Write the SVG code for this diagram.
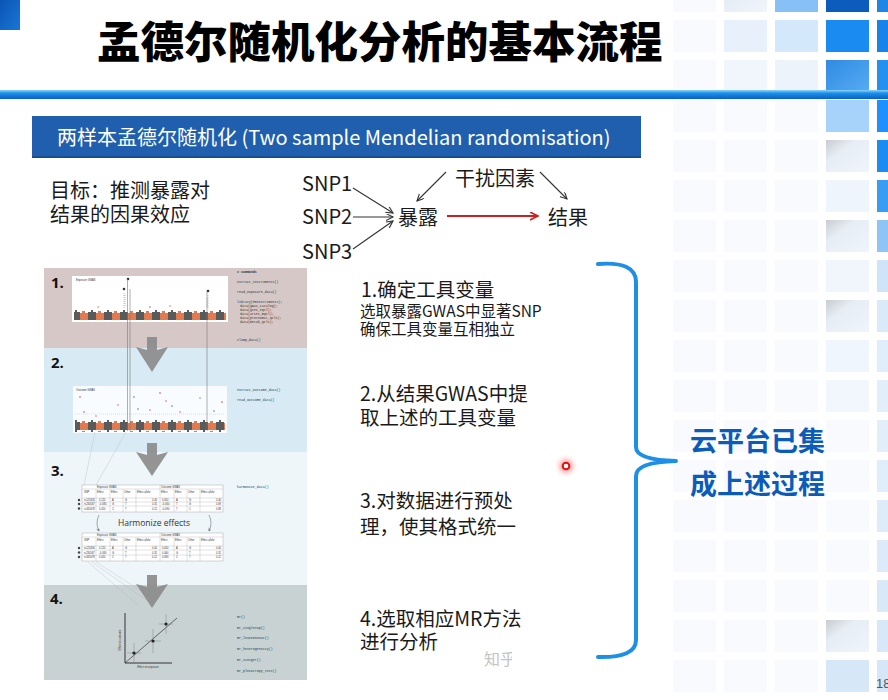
<svg xmlns="http://www.w3.org/2000/svg" width="888" height="700" viewBox="0 0 888 700">
  <defs>
    <style>
      .cjk { font-family: "Noto Sans CJK SC", "Noto Sans", sans-serif; }
      .title { font-size: 43.5px; font-weight: 900; fill: #000; }
      .bar-text { font-size: 20px; fill: #fff; }
      .dia { font-size: 20px; fill: #1a1a1a; }
      .step { font-size: 19.5px; fill: #1a1a1a; }
      .sub { font-size: 15.5px; fill: #1a1a1a; }
      .callout { font-size: 27px; font-weight: 700; fill: #0b5cb8; }
      .code { font-family: "Liberation Mono", monospace; font-size: 3.3px; fill: #333; }
      .tiny { font-family: "Liberation Sans", sans-serif; font-size: 2.6px; fill: #333; }
      .num { font-family: "Open Sans", "Liberation Sans", sans-serif; font-size: 15px; font-weight: 700; fill: #111; }
      .grid { fill: #fff; stroke: #999; stroke-width: 0.4; }
      .gl { stroke: #aaa; stroke-width: 0.35; }
      .conn { fill: none; stroke: #333; stroke-width: 1.1; }
      .guide { stroke: #7a7a7a; stroke-width: 0.6; }
      .steparrow { fill: #8a8a8a; opacity: 0.9; }
      .shadow { fill: url(#bevel); }
    </style>
    <linearGradient id="rule" x1="0" y1="0" x2="0" y2="1">
      <stop offset="0" stop-color="#8fd6fb"/>
      <stop offset="0.35" stop-color="#1a90ea"/>
      <stop offset="1" stop-color="#0a5fc2"/>
    </linearGradient>
    <linearGradient id="corner" x1="0" y1="0" x2="1" y2="1">
      <stop offset="0" stop-color="#0b55b5"/>
      <stop offset="1" stop-color="#1976d6"/>
    </linearGradient>
    <linearGradient id="bevel" x1="0" y1="0" x2="1" y2="1">
      <stop offset="0" stop-color="#c9ccd0"/>
      <stop offset="0.35" stop-color="#e6edf5"/>
      <stop offset="1" stop-color="#eef5fc"/>
    </linearGradient>
    <linearGradient id="blueShade" x1="0" y1="0" x2="1" y2="1">
      <stop offset="0" stop-color="#2f8ae2"/>
      <stop offset="1" stop-color="#58acf4"/>
    </linearGradient>
    <pattern id="tile" patternUnits="userSpaceOnUse" x="673" y="-20" width="51" height="40">
      <rect x="0" y="0" width="43" height="32" fill="#f8fafe"/>
    </pattern>
    <pattern id="chrom" patternUnits="userSpaceOnUse" x="0" y="0" width="16" height="10">
      <rect x="0" y="3" width="8" height="7" fill="#e27a4e"/>
      <rect x="2" y="1" width="3" height="2" fill="#e27a4e"/>
      <rect x="8" y="2" width="8" height="8" fill="#5a5a5a"/>
      <rect x="11" y="0" width="2" height="2" fill="#5a5a5a"/>
    </pattern>
    <marker id="head" markerUnits="userSpaceOnUse" markerWidth="10" markerHeight="10" refX="7" refY="3.5" orient="auto">
      <path d="M0,0 L7,3.5 L0,7" fill="none" stroke="#333" stroke-width="1.1"/>
    </marker>
    <marker id="headRed" markerUnits="userSpaceOnUse" markerWidth="12" markerHeight="12" refX="8" refY="4" orient="auto">
      <path d="M0,0 L8,4 L0,8" fill="none" stroke="#cc2020" stroke-width="1.6"/>
    </marker>
    <marker id="headSmall" markerUnits="userSpaceOnUse" markerWidth="5" markerHeight="5" refX="3" refY="1.5" orient="auto">
      <path d="M0,0 L3,1.5 L0,3" fill="none" stroke="#555" stroke-width="0.5"/>
    </marker>
    <filter id="glow" x="-1" y="-1" width="3" height="3">
      <feGaussianBlur stdDeviation="2.5"/>
    </filter>
    <clipPath id="wmClip">
      <rect x="470" y="640" width="42" height="30"/>
    </clipPath>
  </defs>

  <rect width="888" height="700" fill="#fff"/>

  <!-- decorative tile grid, right edge -->
  <g id="tiles">
    <rect x="673" y="0" width="215" height="700" fill="url(#tile)"/>
    <!-- column at x=877 -->
    <rect x="877" y="-20" width="43" height="32" fill="#1f86e6"/>
    <rect x="877" y="20" width="43" height="32" fill="#1883ea"/>
    <rect x="877" y="60" width="43" height="32" fill="#2490f0"/>
    <rect x="877" y="100" width="43" height="32" fill="#1e90ff"/>
    <rect x="877" y="140" width="43" height="32" fill="#1c8cf2"/>
    <rect x="877" y="180" width="43" height="32" fill="#3a9df5"/>
    <rect x="877" y="220" width="43" height="32" fill="#8ec5f6"/>
    <rect x="877" y="260" width="43" height="32" fill="#cfe4f9"/>
    <rect x="877" y="300" width="43" height="32" fill="#dbeaf9"/>
    <rect x="877" y="340" width="43" height="32" fill="#e0edfa"/>
    <rect x="877" y="380" width="43" height="32" fill="#e2eefa"/>
    <rect x="877" y="420" width="43" height="32" fill="#e2eefa"/>
    <rect x="877" y="460" width="43" height="32" fill="#e0edfa"/>
    <rect x="877" y="500" width="43" height="32" fill="#deebf9"/>
    <rect x="877" y="540" width="43" height="32" fill="#dceaf9"/>
    <rect x="877" y="580" width="43" height="32" fill="#dae9f8"/>
    <rect x="877" y="620" width="43" height="32" fill="#d8e8f8"/>
    <rect x="877" y="660" width="43" height="32" fill="#d6e7f8"/>
    <!-- column at x=826 -->
    <rect x="826" y="-20" width="43" height="32" fill="#0b5cbd"/>
    <rect x="826" y="20" width="43" height="32" fill="#1a8bf0"/>
    <rect x="826" y="60" width="43" height="32" fill="url(#blueShade)"/>
    <rect x="826" y="100" width="43" height="32" fill="#a7d2f9"/>
    <rect x="826" y="140" width="43" height="32" class="shadow"/>
    <rect x="826" y="180" width="43" height="32" fill="#eef5fc"/>
    <rect x="826" y="220" width="43" height="32" class="shadow"/>
    <rect x="826" y="260" width="43" height="32" fill="#f1f6fd"/>
    <rect x="826" y="300" width="43" height="32" class="shadow"/>
    <rect x="826" y="340" width="43" height="32" fill="#f0f6fd"/>
    <rect x="826" y="380" width="43" height="32" fill="#f2f7fd"/>
    <rect x="826" y="620" width="43" height="32" class="shadow"/>
    <rect x="826" y="660" width="43" height="32" fill="#d6e8f8"/>
    <!-- column at x=775 -->
    <rect x="775" y="-20" width="43" height="32" fill="#86c0f5"/>
    <rect x="775" y="20" width="43" height="32" fill="#d3e8fa"/>
    <rect x="775" y="60" width="43" height="32" fill="#edf3fb"/>
    <!-- column at x=724 -->
    <rect x="724" y="-20" width="43" height="32" class="shadow"/>
    <rect x="724" y="20" width="43" height="32" fill="#e8f1fb"/>
    <rect x="724" y="60" width="43" height="32" fill="#f1f6fc"/>
  </g>

  <!-- title strip -->
  <g id="header">
    <rect x="0" y="0" width="20" height="30" fill="url(#corner)"/>
    <text x="97" y="58" class="cjk title">孟德尔随机化分析的基本流程</text>
    <rect x="0" y="90" width="888" height="9" fill="url(#rule)"/>
  </g>

  <!-- section banner -->
  <g id="banner">
    <rect x="32" y="116" width="609" height="42" fill="#1f5fae"/>
    <rect x="32" y="156" width="609" height="2" fill="#174d92"/>
    <text x="57" y="145" class="cjk bar-text">两样本孟德尔随机化 (Two sample Mendelian randomisation)</text>
  </g>

  <g id="goal">
    <text x="50" y="198" class="cjk dia">目标：推测暴露对</text>
    <text x="50" y="222" class="cjk dia">结果的因果效应</text>
  </g>

  <!-- causal diagram nodes -->
  <g id="snp1"><text x="302" y="191" class="cjk dia">SNP1</text></g>
  <g id="snp2"><text x="302" y="224" class="cjk dia">SNP2</text></g>
  <g id="snp3"><text x="302" y="259" class="cjk dia">SNP3</text></g>
  <g id="exposure"><text x="398" y="225" class="cjk dia">暴露</text></g>
  <g id="outcome"><text x="548" y="225" class="cjk dia">结果</text></g>
  <g id="confounder"><text x="455" y="186" class="cjk dia">干扰因素</text></g>

  <g id="connectors">
    <line x1="353" y1="188" x2="393" y2="213" class="conn" marker-end="url(#head)"/>
    <line x1="353" y1="217" x2="393" y2="217" class="conn" marker-end="url(#head)"/>
    <line x1="353" y1="249" x2="393" y2="221" class="conn" marker-end="url(#head)"/>
    <line x1="446" y1="172" x2="417" y2="201" class="conn" marker-end="url(#head)"/>
    <line x1="540" y1="172" x2="567" y2="199" class="conn" marker-end="url(#head)"/>
    <line x1="447" y1="216" x2="538" y2="216" fill="none" stroke="#cc2020" stroke-width="2" marker-end="url(#headRed)"/>
  </g>

  <!-- workflow figure -->
  <g id="figure">
    <rect x="44" y="268" width="263" height="80" fill="#d6c8c6"/>
    <rect x="44" y="348" width="263" height="104" fill="#d8ebf4"/>
    <rect x="44" y="452" width="263" height="133" fill="#eef6fa"/>
    <rect x="44" y="585" width="263" height="95" fill="#c9d2d3"/>

    <g id="panel1">
      <text x="51" y="288" class="num">1.</text>
      <rect x="72" y="276" width="156" height="46" fill="#fff"/>
      <text x="76" y="281" class="tiny">Exposure GWAS</text>
      <rect x="74" y="310" width="152" height="10" fill="url(#chrom)"/>
      <circle cx="128" cy="279" r="1.3" fill="#333"/>
      <circle cx="124" cy="289" r="1.3" fill="#333"/>
      <circle cx="208" cy="291" r="1.3" fill="#333"/>
      <path d="M124,293 v15 M125,295 v12 M208,295 v13 M207,298 v10" stroke="#777" stroke-width="0.6" stroke-dasharray="0.8 1.2"/>
      <circle cx="170" cy="306" r="0.8" fill="#e27a4e"/>
      <circle cx="98" cy="307" r="0.8" fill="#e27a4e"/>
      <circle cx="150" cy="307" r="0.7" fill="#5a5a5a"/>
      <text x="237" y="273" class="code" font-weight="700"># commands</text>
      <text x="237" y="283" class="code">extract_instruments()</text>
      <text x="237" y="293" class="code">read_exposure_data()</text>
      <text x="237" y="303" class="code">library(MRInstruments);</text>
      <text x="240" y="307" class="code">data(gwas_catalog);</text>
      <text x="240" y="311" class="code">data(gtex_eqtl);</text>
      <text x="240" y="315" class="code">data(aries_mqtl);</text>
      <text x="240" y="319" class="code">data(proteomic_qtls);</text>
      <text x="240" y="323" class="code">data(metab_qtls);</text>
      <text x="237" y="341" class="code">clump_data()</text>
    </g>

    <g id="panel2">
      <text x="51" y="368" class="num">2.</text>
      <rect x="73" y="386" width="154" height="47" fill="#fff" opacity="0.85"/>
      <text x="76" y="391" class="tiny">Outcome GWAS</text>
      <line x1="75" y1="414" x2="225" y2="414" stroke="#999" stroke-width="0.3" stroke-dasharray="1 1"/>
      <rect x="75" y="420" width="150" height="12" fill="url(#chrom)"/>
      <g fill="#d84a3a">
        <circle cx="80" cy="397" r="0.8"/><circle cx="84" cy="412" r="0.8"/>
        <circle cx="118" cy="405" r="0.7"/><circle cx="150" cy="410" r="0.7"/>
        <circle cx="160" cy="393" r="0.8"/><circle cx="166" cy="401" r="0.7"/>
        <circle cx="200" cy="398" r="0.7"/><circle cx="222" cy="402" r="0.8"/>
        <circle cx="180" cy="412" r="0.7"/><circle cx="96" cy="416" r="0.7"/>
      </g>
      <g fill="#555">
        <circle cx="134" cy="397" r="0.7"/><circle cx="138" cy="409" r="0.7"/>
        <circle cx="172" cy="406" r="0.7"/><circle cx="214" cy="411" r="0.7"/>
      </g>
      <text x="237" y="391" class="code">extract_outcome_data()</text>
      <text x="237" y="401" class="code">read_outcome_data()</text>
    </g>

    <!-- guide lines carried from exposure hits -->
    <line x1="127.5" y1="279" x2="127.5" y2="431" class="guide"/>
    <line x1="130" y1="289" x2="130" y2="431" class="guide"/>
    <line x1="207" y1="291" x2="207" y2="431" class="guide"/>

    <g id="panel3">
      <text x="51" y="476" class="num">3.</text>
      <line x1="95" y1="432" x2="84" y2="485" stroke="#bbb" stroke-width="0.4"/>
      <line x1="126" y1="432" x2="96" y2="485" stroke="#bbb" stroke-width="0.4"/>
      <rect x="82" y="485" width="141" height="27" class="grid"/>
      <path d="M82,489 H223 M96,489 V512 M82,498 H223 M82,502 H223 M82,506 H223 M110,489 V512 M123,489 V512 M136,489 V512 M160,485 V512 M174,489 V512 M187,489 V512 M200,489 V512" class="gl"/>
      <text x="97" y="488" class="tiny">Exposure GWAS</text>
      <text x="161" y="488" class="tiny">Outcome GWAS</text>
      <text x="84" y="493" class="tiny">SNP</text>
      <text x="97" y="493" class="tiny">Effect</text>
      <text x="111" y="493" class="tiny">Effect</text>
      <text x="124" y="493" class="tiny">Other</text>
      <text x="137" y="493" class="tiny">Effect allele</text>
      <text x="161" y="493" class="tiny">Effect</text>
      <text x="175" y="493" class="tiny">Effect</text>
      <text x="188" y="493" class="tiny">Other</text>
      <text x="201" y="493" class="tiny">Effect allele</text>
      <text x="84" y="501" class="tiny">rs123456</text>
      <text x="84" y="505" class="tiny">rs234567</text>
      <text x="84" y="509.5" class="tiny">rs345678</text>
      <text x="99" y="501" class="tiny">0.120</text>
      <text x="99" y="505" class="tiny">-0.080</text>
      <text x="99" y="509.5" class="tiny">0.020</text>
      <text x="112" y="501" class="tiny">A</text><text x="112" y="505" class="tiny">G</text><text x="112" y="509.5" class="tiny">C</text>
      <text x="125" y="501" class="tiny">G</text><text x="125" y="505" class="tiny">T</text><text x="125" y="509.5" class="tiny">T</text>
      <text x="152" y="501" class="tiny">0.40</text><text x="152" y="505" class="tiny">0.31</text><text x="152" y="509.5" class="tiny">0.12</text>
      <text x="162" y="501" class="tiny">0.050</text>
      <text x="162" y="505" class="tiny" fill="#d33">-0.060</text>
      <text x="162" y="509.5" class="tiny" fill="#d33">-0.090</text>
      <text x="176" y="501" class="tiny">A</text><text x="176" y="505" class="tiny">T</text><text x="176" y="509.5" class="tiny">T</text>
      <text x="189" y="501" class="tiny">G</text><text x="189" y="505" class="tiny">G</text><text x="189" y="509.5" class="tiny">C</text>
      <text x="216" y="501" class="tiny">0.40</text>
      <text x="216" y="505" class="tiny" fill="#d33">0.69</text>
      <text x="216" y="509.5" class="tiny" fill="#d33">0.88</text>
      <circle cx="79" cy="500" r="1.2" fill="#444"/>
      <circle cx="79" cy="504" r="1.2" fill="#444"/>
      <circle cx="79" cy="508.5" r="1.2" fill="#444"/>
      <text x="237" y="488" class="code">harmonise_data()</text>

      <path d="M99,515 Q95,523 99,531" fill="none" stroke="#555" stroke-width="0.5" marker-end="url(#headSmall)"/>
      <path d="M209,515 Q213,523 209,531" fill="none" stroke="#555" stroke-width="0.5" marker-end="url(#headSmall)"/>
      <text x="154" y="526" text-anchor="middle" font-family="Open Sans, Liberation Sans, sans-serif" font-size="8.5" fill="#333">Harmonize effects</text>

      <rect x="82" y="533" width="141" height="28" class="grid"/>
      <path d="M82,537 H223 M96,537 V561 M82,546 H223 M82,550 H223 M82,555 H223 M110,537 V561 M123,537 V561 M136,537 V561 M160,533 V561 M174,537 V561 M187,537 V561 M200,537 V561" class="gl"/>
      <text x="97" y="536" class="tiny">Exposure GWAS</text>
      <text x="161" y="536" class="tiny">Outcome GWAS</text>
      <text x="84" y="541" class="tiny">SNP</text>
      <text x="97" y="541" class="tiny">Effect</text>
      <text x="111" y="541" class="tiny">Effect</text>
      <text x="124" y="541" class="tiny">Other</text>
      <text x="137" y="541" class="tiny">Effect allele</text>
      <text x="161" y="541" class="tiny">Effect</text>
      <text x="175" y="541" class="tiny">Effect</text>
      <text x="188" y="541" class="tiny">Other</text>
      <text x="201" y="541" class="tiny">Effect allele</text>
      <text x="84" y="549" class="tiny">rs123456</text>
      <text x="84" y="553.5" class="tiny">rs234567</text>
      <text x="84" y="558" class="tiny">rs345678</text>
      <text x="99" y="549" class="tiny">0.120</text>
      <text x="99" y="553.5" class="tiny">-0.080</text>
      <text x="99" y="558" class="tiny">0.020</text>
      <text x="112" y="549" class="tiny">A</text><text x="112" y="553.5" class="tiny">G</text><text x="112" y="558" class="tiny">C</text>
      <text x="125" y="549" class="tiny">G</text><text x="125" y="553.5" class="tiny">T</text><text x="125" y="558" class="tiny">T</text>
      <text x="152" y="549" class="tiny">0.40</text><text x="152" y="553.5" class="tiny">0.31</text><text x="152" y="558" class="tiny">0.12</text>
      <text x="162" y="549" class="tiny">0.050</text>
      <text x="162" y="553.5" class="tiny" fill="#d33">0.060</text>
      <text x="162" y="558" class="tiny" fill="#d33">0.090</text>
      <text x="176" y="549" class="tiny">A</text><text x="176" y="553.5" class="tiny">G</text><text x="176" y="558" class="tiny">C</text>
      <text x="189" y="549" class="tiny">G</text><text x="189" y="553.5" class="tiny">T</text><text x="189" y="558" class="tiny">T</text>
      <text x="216" y="549" class="tiny">0.40</text>
      <text x="216" y="553.5" class="tiny" fill="#d33">0.31</text>
      <text x="216" y="558" class="tiny" fill="#d33">0.12</text>
      <circle cx="79" cy="548" r="1.2" fill="#444"/>
      <circle cx="79" cy="552.5" r="1.2" fill="#444"/>
      <circle cx="79" cy="557" r="1.2" fill="#444"/>
      <path d="M88,562 L138,605 M92,562 L146,600 M96,562 L152,598" stroke="#aaa" stroke-width="0.4" opacity="0.7"/>
    </g>

    <g id="panel4">
      <text x="50" y="604" class="num">4.</text>
      <path d="M125,613 V663 H172" fill="none" stroke="#333" stroke-width="1"/>
      <line x1="125" y1="663" x2="177" y2="618" stroke="#333" stroke-width="0.7"/>
      <path d="M134,643 V663 M127,653 H141 M153,629 V653 M145,641 H161 M166,614 V634 M159,624 H173" stroke="#777" stroke-width="0.4"/>
      <circle cx="134" cy="653" r="1.6" fill="#222"/>
      <circle cx="153" cy="641" r="1.6" fill="#222"/>
      <circle cx="166" cy="624" r="1.6" fill="#222"/>
      <text x="121" y="640" transform="rotate(-90 121 640)" text-anchor="middle" class="tiny">Effect on outcome</text>
      <text x="148" y="668" text-anchor="middle" class="tiny">Effect on exposure</text>
      <text x="237" y="618" class="code">mr()</text>
      <text x="237" y="629" class="code">mr_singlesnp()</text>
      <text x="237" y="639" class="code">mr_leaveoneout()</text>
      <text x="237" y="650" class="code">mr_heterogeneity()</text>
      <text x="237" y="661" class="code">mr_steiger()</text>
      <text x="237" y="672" class="code">mr_pleiotropy_test()</text>
    </g>

    <!-- step arrows -->
    <path d="M147,337 H157 V350 L168,347 L152,372 L136,347 L147,350 Z" class="steparrow"/>
    <path d="M147,443 H157 V455 L168,452 L152,476 L136,452 L147,455 Z" class="steparrow"/>
    <path d="M147,575 H157 V587 L168,584 L152,608 L136,584 L147,587 Z" class="steparrow"/>
  </g>

  <!-- step descriptions -->
  <g id="step1">
    <text x="361" y="297" class="cjk step">1.确定工具变量</text>
    <text x="360" y="317" class="cjk sub">选取暴露GWAS中显著SNP</text>
    <text x="360" y="335" class="cjk sub">确保工具变量互相独立</text>
  </g>
  <g id="step2">
    <text x="360" y="401" class="cjk step">2.从结果GWAS中提</text>
    <text x="360" y="425" class="cjk step">取上述的工具变量</text>
  </g>
  <g id="step3">
    <text x="360" y="508" class="cjk step">3.对数据进行预处</text>
    <text x="360" y="534" class="cjk step">理，使其格式统一</text>
  </g>
  <g id="step4">
    <text x="360" y="626" class="cjk step">4.选取相应MR方法</text>
    <text x="360" y="649" class="cjk step">进行分析</text>
  </g>

  <!-- curly brace -->
  <g id="brace">
    <path d="M598,264 Q636,261 636,282 L636,447 Q636,460 676,461 Q636,462 636,476 L636,640 Q636,658 598,657" fill="none" stroke="#1f8fe5" stroke-width="4" stroke-linecap="round" stroke-linejoin="round"/>
  </g>

  <g id="callout">
    <text x="690" y="451" class="cjk callout">云平台已集</text>
    <text x="690" y="494" class="cjk callout">成上述过程</text>
  </g>

  <!-- pointer dot -->
  <g id="pointer">
    <circle cx="566" cy="466" r="7" fill="#ff3030" opacity="0.45" filter="url(#glow)"/>
    <circle cx="566" cy="466" r="3.3" fill="#fff" stroke="#e01010" stroke-width="2"/>
  </g>

  <text x="484" y="665" class="cjk" font-size="16" fill="#c4c4c4" clip-path="url(#wmClip)">知乎</text>
  <text x="876" y="688" font-family="Liberation Sans, sans-serif" font-size="13" fill="#555">18</text>
</svg>
